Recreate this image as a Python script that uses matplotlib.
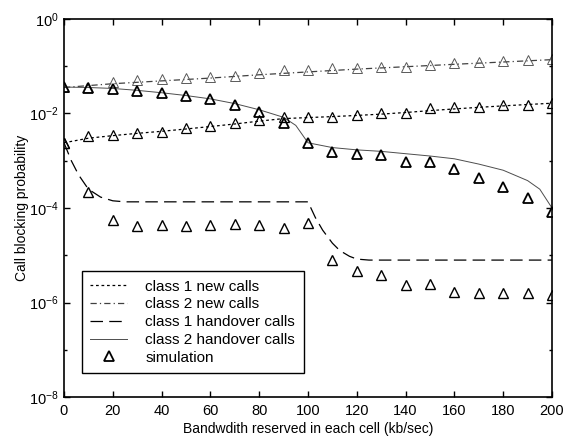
import numpy as np
import matplotlib
matplotlib.use('Agg')
import matplotlib.pyplot as plt
from matplotlib.ticker import FixedLocator, NullFormatter

plt.rcParams['font.family'] = ['Liberation Sans', 'DejaVu Sans']
plt.rcParams['mathtext.fontset'] = 'custom'
plt.rcParams['mathtext.rm'] = 'Liberation Sans'
plt.rcParams['mathtext.it'] = 'Liberation Sans'

# analytical curves (bandwidth reserved, blocking probability)
x_c1_new = [0, 10, 20, 30, 40, 50, 60, 70, 80, 90, 100, 110, 120, 130, 140, 150, 160, 170, 180, 190, 200]
y_c1_new = [2.4e-3, 3.0e-3, 3.4e-3, 3.8e-3, 4.2e-3, 4.7e-3, 5.3e-3, 6.0e-3, 6.9e-3, 7.8e-3, 8.2e-3,
            8.6e-3, 9.1e-3, 9.7e-3, 1.05e-2, 1.15e-2, 1.25e-2, 1.35e-2, 1.45e-2, 1.55e-2, 1.65e-2]

x_c2_new = [0, 20, 40, 60, 80, 100, 120, 140, 160, 180, 200]
y_c2_new = [0.0355, 0.0427, 0.049, 0.0562, 0.066, 0.0759, 0.087, 0.0977, 0.11, 0.123, 0.138]

x_c1_ho = [0, 3, 6, 10, 15, 20, 25, 100, 103, 106, 110, 113, 117, 120, 125, 200]
y_c1_ho = [2.4e-3, 1.0e-3, 5.0e-4, 2.5e-4, 1.7e-4, 1.42e-4, 1.35e-4, 1.35e-4, 6.3e-5, 3.4e-5,
           1.8e-5, 1.26e-5, 9.5e-6, 8.3e-6, 7.9e-6, 7.9e-6]

x_c2_ho = [0, 10, 20, 30, 40, 50, 60, 70, 80, 90, 95, 100, 110, 120, 130, 140, 150, 160, 170, 180, 190, 195, 200]
y_c2_ho = [0.0363, 0.0355, 0.0339, 0.0309, 0.0275, 0.024, 0.0204, 0.0162, 0.012, 0.0083, 0.0056,
           2.4e-3, 1.9e-3, 1.7e-3, 1.58e-3, 1.41e-3, 1.26e-3, 1.1e-3, 8.5e-4, 6.3e-4, 3.8e-4,
           2.5e-4, 1.0e-4]

# simulation points
x_sim = [0, 10, 20, 30, 40, 50, 60, 70, 80, 90, 100, 110, 120, 130, 140, 150, 160, 170, 180, 190, 200]
sim_c1_new = [2.4e-3, 3.3e-3, 3.5e-3, 3.9e-3, 4.1e-3, 4.9e-3, 5.4e-3, 6.3e-3, 7.3e-3, 8.5e-3, 8.4e-3,
              8.4e-3, 9.3e-3, 1.0e-2, 1.0e-2, 1.3e-2, 1.4e-2, 1.4e-2, 1.5e-2, 1.5e-2, 1.7e-2]
sim_c2_new = [0.036, 0.037, 0.046, 0.051, 0.054, 0.056, 0.059, 0.062, 0.072, 0.083, 0.083,
              0.092, 0.092, 0.096, 0.096, 0.106, 0.117, 0.123, 0.129, 0.136, 0.142]
sim_c1_ho = [2.4e-3, 2.2e-4, 5.6e-5, 4.2e-5, 4.3e-5, 4.2e-5, 4.3e-5, 4.6e-5, 4.3e-5, 3.8e-5, 4.8e-5,
             7.9e-6, 4.7e-6, 3.8e-6, 2.3e-6, 2.5e-6, 1.7e-6, 1.6e-6, 1.6e-6, 1.6e-6, 1.45e-6]
sim_c2_ho = [0.036, 0.035, 0.033, 0.030, 0.027, 0.024, 0.020, 0.015, 0.011, 0.0062, 0.0024,
             0.0015, 0.0014, 0.0013, 9.4e-4, 9.4e-4, 6.7e-4, 4.3e-4, 2.8e-4, 1.6e-4, 8.3e-5]

xticks = [0, 20, 40, 60, 80, 100, 120, 140, 160, 180, 200]
yticks = [1e-8, 1e-6, 1e-4, 1e-2, 1e0]
ytick_labels = ['$10^{-8}$', '$10^{-6}$', '$10^{-4}$', '$10^{-2}$', '$10^{0}$']

fig = plt.figure(figsize=(5.71, 4.44), dpi=100)
ax = fig.add_axes([64 / 571, 1 - 397 / 444, 488 / 571, 378 / 444])

ax.plot(x_c1_new, y_c1_new, color='black', lw=0.9, linestyle=(0, (2.2, 2.2)), label='class 1 new calls')
ax.plot(x_c2_new, y_c2_new, color='0.25', lw=0.9, linestyle=(0, (5, 2.5, 1, 2.5)), label='class 2 new calls')
ax.plot(x_c1_ho, y_c1_ho, color='black', lw=0.9, linestyle=(0, (10, 5)), label='class 1 handover calls')
ax.plot(x_c2_ho, y_c2_ho, color='0.3', lw=0.7, linestyle='-', label='class 2 handover calls')

mk = dict(marker='^', linestyle='none', markersize=7, markerfacecolor='none')
ax.plot(x_sim, sim_c2_new, color='0.35', markeredgewidth=0.7, **mk)
ax.plot(x_sim, sim_c1_new, color='black', markeredgewidth=0.9, **mk)
ax.plot(x_sim, sim_c1_ho, color='black', markeredgewidth=1.0, **mk)
ax.plot(x_sim, sim_c2_ho, color='black', markeredgewidth=1.3, label='simulation', **mk)

ax.set_yscale('log')
ax.set_xlim(0, 200)
ax.set_ylim(1e-8, 1)
ax.set_xticks(xticks)
ax.set_yticks(yticks)
ax.set_yticklabels(ytick_labels)
ax.yaxis.set_minor_locator(FixedLocator([1e-7, 1e-5, 1e-3, 1e-1]))
ax.yaxis.set_minor_formatter(NullFormatter())

ax.tick_params(which='both', direction='in', top=True, right=True, labelsize=10.5, width=1)
ax.tick_params(which='major', length=4)
ax.tick_params(axis='x', which='major', pad=5)
ax.tick_params(axis='y', which='major', pad=4)
ax.tick_params(which='minor', length=2)
for s in ax.spines.values():
    s.set_linewidth(1.2)

ax.set_xlabel('Bandwdith reserved in each cell (kb/sec)', fontsize=10, labelpad=3)
ax.set_ylabel('Call blocking probability', fontsize=10, labelpad=0)

leg = ax.legend(loc='lower left', bbox_to_anchor=(0.037, 0.063), borderaxespad=0,
                fontsize=11, fancybox=False, framealpha=1, edgecolor='black',
                labelspacing=0.25, handlelength=2.4, handletextpad=1.2, borderpad=0.55)
leg.get_frame().set_linewidth(1.0)

fig.savefig('out.png', dpi=100)
